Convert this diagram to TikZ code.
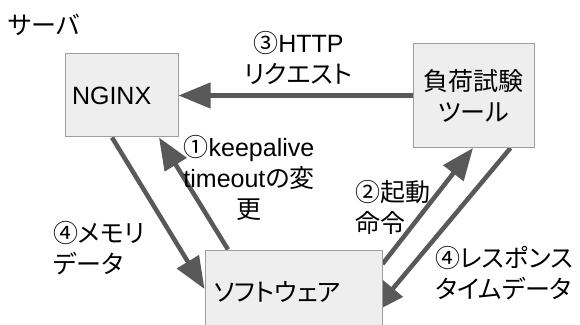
\documentclass[tikz,border=0pt]{standalone}
\usepackage{fontspec}
\setmainfont{Liberation Sans}
\newfontfamily\jp[RawFeature=+palt]{Noto Sans CJK JP}
\usepackage{tikz}
\usetikzlibrary{positioning, arrows.meta, backgrounds}
\definecolor{arrowgray}{HTML}{595959}
\definecolor{boxfill}{HTML}{EEEEEE}
\definecolor{boxline}{HTML}{9E9E9E}

\begin{document}
\begin{tikzpicture}[
  x=1pt, y=1pt,
  font=\fontsize{25}{31}\selectfont,
  box/.style  ={rectangle, draw=boxline, line width=1pt, fill=boxfill,
                minimum height=83pt},
  lbl/.style  ={inner sep=0pt, align=left, anchor=west},
  jlbl/.style ={lbl, font=\fontsize{25}{31}\selectfont\jp},
  flow/.style ={-{Triangle[length=32pt, width=25pt]}, line width=4.5pt, arrowgray}
]
\useasboundingbox (0,0) rectangle (580,324);

% ---------- Boxes ----------
\node[box, text width=99pt, inner xsep=7pt, align=left] (ngx) at (121.5,228.5) {NGINX};
\node[box, right=234pt of ngx, minimum width=121pt, minimum height=104pt,
      font=\fontsize{25}{31}\selectfont\jp, align=center] (tool) {負荷試験\\ツール};
\node[box, below right=112pt and 26pt of ngx, text width=159pt, inner xsep=9pt,
      font=\fontsize{25}{31}\selectfont\jp, align=left] (soft) {ソフトウェア};

% ---------- Labels ----------
\node[jlbl] (server) at (8,299) {サーバ};
\node[lbl, anchor=center, align=center] (lhttp) at (298.5,266)
     {{\jp ③}HTTP\\{\jp リクエスト}};
\node[lbl, anchor=center, align=center] (lkeep) at (249,146)
     {{\jp ①}keepalive\\timeout{\jp の変}\\{\jp 更}};
\node[jlbl] (lmem)  at (53,76)   {④メモリ\\データ};
\node[jlbl] (lrun)  at (355,116.5) {②起動\\命令};
\node[jlbl] (lresp) at (435,51)  {④レスポンス\\タイムデータ};

% ---------- Arrows ----------
\begin{scope}[on background layer]
  \draw[flow] (tool.west) -- (ngx.east);
  \draw[flow] ([xshift=-65.5pt]soft.north) -- ([xshift=37.5pt]ngx.south);
  \draw[flow] ([xshift=-9.5pt]ngx.south) -- ([yshift=2.5pt]soft.west);
  \draw[flow] ([yshift=27.5pt]soft.east) -- ([xshift=-0.5pt]tool.south);
  \draw[flow] ([xshift=37pt]tool.south) -- ([xshift=-10pt,yshift=-21.5pt]soft.east);
\end{scope}

\end{tikzpicture}
\end{document}
